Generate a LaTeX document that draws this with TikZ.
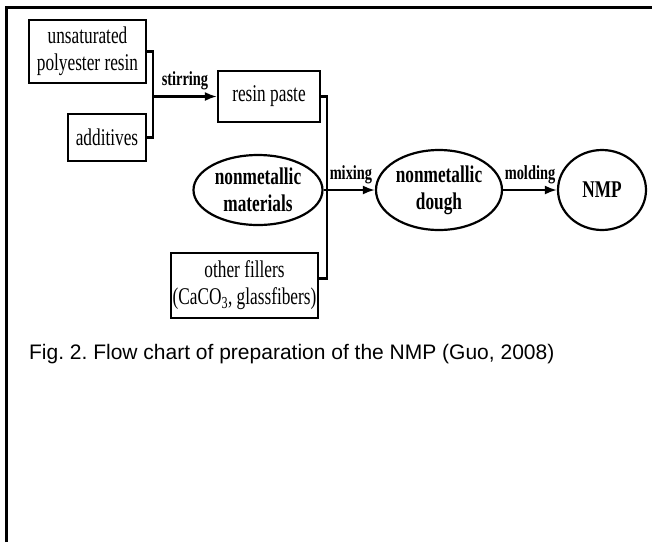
\documentclass[tikz,border=0pt]{standalone}
\usepackage{fontspec}
\setmainfont[FakeStretch=0.72]{Liberation Serif}
\newfontfamily\capfont{Liberation Sans}
\usetikzlibrary{shapes.geometric,arrows.meta}
\frenchspacing

\begin{document}
\begin{tikzpicture}
  [
  x=1pt,y=-1pt,
  line width=2.2pt,
  box/.style={rectangle,draw,inner sep=0pt,align=center,font=\fontsize{24}{27}\selectfont},
  oval/.style={ellipse,draw,inner sep=0pt,align=center,font=\bfseries\fontsize{24}{27}\selectfont},
  lbl/.style={above,inner sep=5pt,font=\bfseries\fontsize{20}{22}\selectfont},
  arr/.style={-{Latex[length=12pt,width=9pt]}}
  ]
  \useasboundingbox (0,0) rectangle (652,542);
  \draw [line width=3pt] (6,542) -- (6,7) -- (652,7);

  \node (resin) at (87.5,51.5) [box,minimum width=117pt,minimum height=63pt] {unsaturated\\polyester resin};
  \node (add) at (107,137.5) [box,minimum width=78pt,minimum height=47pt] {additives};
  \node (paste) at (269,96.5) [box,minimum width=102pt,minimum height=51pt] {resin paste};
  \node (mat) at (258,190) [oval,minimum width=129pt,minimum height=70pt] {nonmetallic\\materials};
  \node (fill) at (244.5,285.5) [box,minimum width=147pt,minimum height=65pt] {other fillers\\(CaCO\textsubscript{3}, glassfibers)};
  \node (dough) at (439,190) [oval,minimum width=126pt,minimum height=80pt] {nonmetallic\\dough};
  \node (nmp) at (602,190) [oval,minimum width=88pt,minimum height=80pt] {NMP};

  \coordinate (stir) at (153,96.5);
  \coordinate (mix) at (327,190);

  \draw (resin.east) -| (stir) |- (add.east);
  \draw [arr] (stir) -- node [lbl] {stirring} (paste.west);
  \draw (paste.east) -| (mix) |- ([yshift=7pt]fill.east);
  \draw (mat.east) -- (mix);
  \draw [arr] (mix) -- node [lbl] {mixing} (dough.west);
  \draw [arr] (dough) -- node [lbl] {molding} (nmp);

  \node (cap) at (28,359) [anchor=base west,inner sep=0pt,font=\capfont\fontsize{21}{24}\selectfont]
    {Fig. 2. Flow chart of preparation of the NMP (Guo, 2008)};
\end{tikzpicture}
\end{document}
